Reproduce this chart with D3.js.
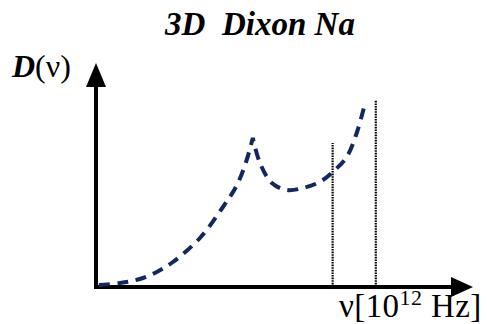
<!DOCTYPE html>
<html><head><meta charset="utf-8">
<script src="https://cdn.jsdelivr.net/npm/d3@7"></script>
<style>
html,body{margin:0;padding:0;background:#fff;}
svg{display:block;}
text{font-family:"Liberation Serif","Times New Roman",serif;}
</style></head>
<body>
<script>
// Data (arbitrary units): frequency nu, density D
const nuRise = [0.08, 0.67, 1.22, 1.69, 2.14, 2.89, 3.53, 3.92, 4.19, 4.36];
const dRise  = [1, 2, 4, 7.5, 12.5, 24.5, 40, 51, 63.5, 74.5];
const nuFall = [4.36, 4.56, 4.89, 5.31, 5.75, 6.22, 6.58, 6.97, 7.25, 7.47];
const dFall  = [74.5, 62, 52, 48.5, 49.5, 52.5, 57.5, 65, 77, 91];
const cutoffNu = [6.58, 7.78];
const cutoffTop = [72, 93.5];
const titleText = "3D  Dixon Na";

const W = 487, H = 324;
const svg = d3.select("body").append("svg").attr("width", W).attr("height", H);

const x = d3.scaleLinear().domain([0, 10.4]).range([96, 470]);
const y = d3.scaleLinear().domain([0, 100]).range([287, 87]);

// axes (no ticks)
const xAxis = d3.axisBottom(x).tickValues([]).tickSizeOuter(0);
const yAxis = d3.axisLeft(y).tickValues([]).tickSizeOuter(0);
svg.append("g").attr("transform", `translate(0,${y(0)})`).call(xAxis)
  .call(g => g.select(".domain").attr("stroke", "#000").attr("stroke-width", 4)
     .attr("d", `M${x(0)-2},0H${x.range()[1]-18}`));
svg.append("g").attr("transform", `translate(${x(0)},0)`).call(yAxis)
  .call(g => g.select(".domain").attr("stroke", "#000").attr("stroke-width", 4)
     .attr("d", `M0,${y(0)+2}V${y(100)}`));
// arrowheads
const xe = x.range()[1], ye = y(0);
svg.append("path").attr("d", `M${xe+3},${ye}L${xe-19},${ye-10}L${xe-19},${ye+10}Z`).attr("fill", "#000");
const yx = x(0), yt = y(100);
svg.append("path").attr("d", `M${yx},${yt-24}L${yx-10},${yt}L${yx+10},${yt}Z`).attr("fill", "#000");

// cutoff dotted lines
svg.selectAll("line.cut").data(cutoffNu).join("line").attr("class", "cut")
  .attr("x1", d => x(d)).attr("x2", d => x(d))
  .attr("y1", y(0)).attr("y2", (d, i) => y(cutoffTop[i]))
  .attr("stroke", "#000").attr("stroke-width", 2.2).attr("stroke-dasharray", "1.6,1");

// curve
const line = d3.line().x(d => x(d[0])).y(d => y(d[1])).curve(d3.curveCatmullRom.alpha(0.5));
const p1 = line(nuRise.map((v, i) => [v, dRise[i]]));
const p2 = line(nuFall.map((v, i) => [v, dFall[i]]));
svg.append("path").attr("d", p1 + p2.replace(/^M/, "L"))
  .attr("fill", "none").attr("stroke", "#12295e").attr("stroke-width", 4)
  .attr("stroke-dasharray", "11,7.5");

// texts
svg.append("text").attr("x", 260).attr("y", 35).attr("text-anchor", "middle")
  .attr("font-weight", "bold").attr("font-style", "oblique").attr("font-size", 33)
  .style("white-space", "pre").text(titleText);

const dl = svg.append("text").attr("x", 12).attr("y", 77).attr("font-size", 32);
dl.append("tspan").attr("font-weight", "bold").attr("font-style", "oblique").text("D");
dl.append("tspan").text("(ν)");

const xl = svg.append("text").attr("x", 339).attr("y", 317).attr("font-size", 33)
  .attr("letter-spacing", 0.4);
xl.append("tspan").text("ν[10");
xl.append("tspan").attr("font-size", 22).attr("dy", -12).text("12");
xl.append("tspan").attr("dy", 12).style("white-space", "pre").text(" Hz]");
</script>
</body></html>
